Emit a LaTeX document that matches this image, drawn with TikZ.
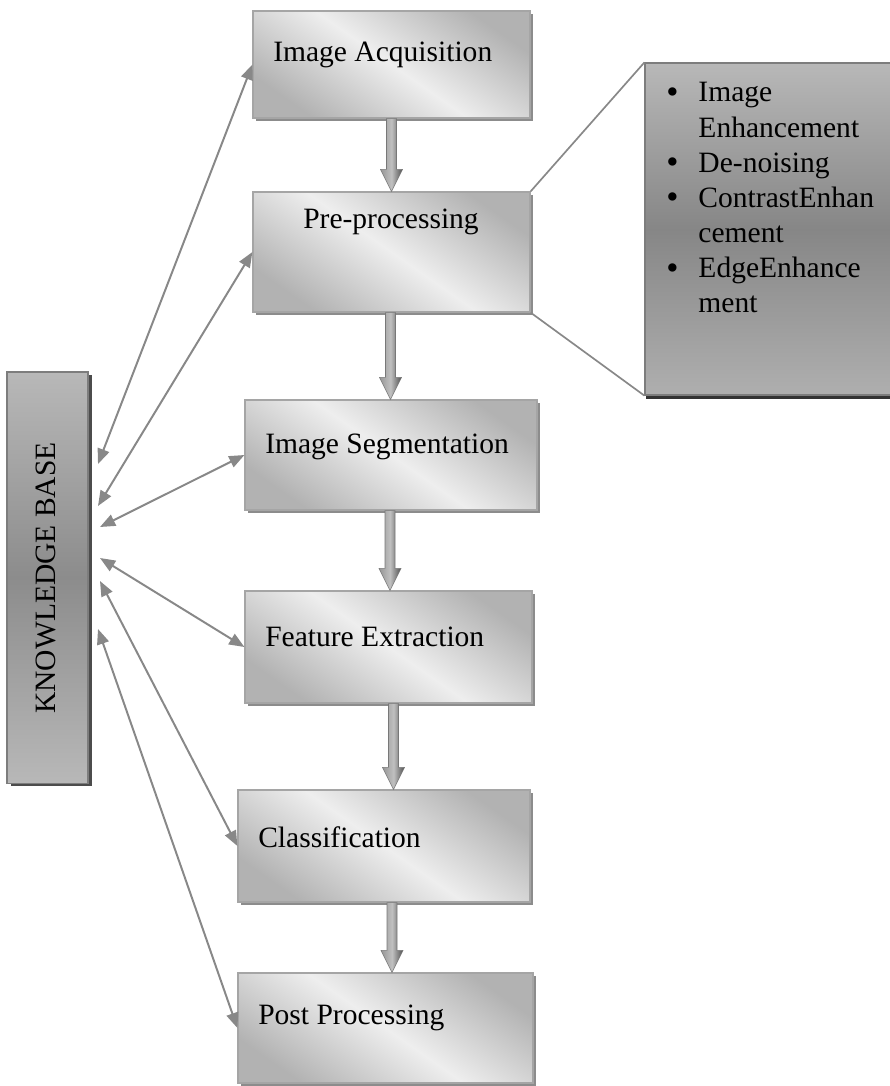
\documentclass[tikz,border=0pt]{standalone}
\usepackage{fontspec}
\usepackage{graphicx}
\setmainfont{Liberation Serif}
\usetikzlibrary{calc}
\usetikzlibrary{shadows}
\usetikzlibrary{arrows.meta}

\definecolor{stageedge}{RGB}{165,165,165}
\definecolor{stagedark}{RGB}{178,178,178}
\definecolor{stagelight}{RGB}{238,238,238}
\definecolor{kbedge}{RGB}{125,125,125}
\definecolor{kbtop}{RGB}{184,184,184}
\definecolor{kbmid}{RGB}{140,140,140}
\definecolor{linkgray}{RGB}{136,136,136}
\definecolor{flowleft}{RGB}{150,150,150}
\definecolor{flowlight}{RGB}{192,192,192}
\definecolor{flowdark}{RGB}{80,80,80}

\tikzset{
  stage/.style={draw=stageedge, line width=0.8pt, inner sep=0pt,
    top color=stagedark, bottom color=stagedark, middle color=stagelight, shading angle=-35,
    drop shadow={shadow xshift=2pt, shadow yshift=-2pt, fill=black!45, opacity=1}},
  stagetext/.style={font=\fontsize{21}{25}\selectfont, inner sep=0pt},
  link/.style={linkgray, line width=1.4pt,
    {Triangle[length=0.38cm,width=0.3cm]}-{Triangle[length=0.38cm,width=0.3cm]}},
  flow/.style={draw=flowleft!80!black, line width=0.4pt,
    left color=flowleft, right color=flowdark, middle color=flowlight},
}

% block arrow from the bottom of #1 to the top of #2, shifted sideways by #3
\newcommand{\flowarrow}[3]{%
  \coordinate (s) at ($(#1.south)+(#3,0)$);
  \coordinate (t) at (s |- #2.north);
  \path[flow] ($(s)+(-5,0)$) -- ($(s)+(5,0)$) -- ($(t)+(5,-22)$) -- ($(t)+(11,-22)$)
    -- (t) -- ($(t)+(-11,-22)$) -- ($(t)+(-5,-22)$) -- cycle;}

\newcommand{\dotitem}{\raisebox{-1pt}{\scalebox{1.18}{\textbullet}}}

\begin{document}
\begin{tikzpicture}[x=0.025cm, y=-0.025cm]
\useasboundingbox (0,0) rectangle (889,1086);

% processing stages
\node[stage, minimum width=6.925cm, minimum height=2.675cm] (ia) at (391.5,64.5) {};
\node[stage, minimum width=6.925cm, minimum height=3cm] (pp) at (391.5,252) {};
\node[stage, minimum width=7.3cm, minimum height=2.75cm] (seg) at (391,455) {};
\node[stage, minimum width=7.175cm, minimum height=2.8cm] (fe) at (388.5,647) {};
\node[stage, minimum width=7.3cm, minimum height=2.8cm] (cl) at (384,846) {};
\node[stage, minimum width=7.375cm, minimum height=2.75cm] (po) at (385.5,1028) {};

\node[stagetext, anchor=west] (iatext) at (273,55) {Image Acquisition};
\node[stagetext] (pptext) at (391,222) {Pre-processing};
\node[stagetext, anchor=west] (segtext) at (265,447) {Image Segmentation};
\node[stagetext, anchor=west] (fetext) at (265,637) {Feature Extraction};
\node[stagetext, anchor=west] (cltext) at (258,837) {Classification};
\node[stagetext, anchor=west] (potext) at (258,1018) {Post Processing};

\flowarrow{ia}{pp}{0}
\flowarrow{pp}{seg}{-1}
\flowarrow{seg}{fe}{-1}
\flowarrow{fe}{cl}{5}
\flowarrow{cl}{po}{8}

% knowledge base
\node[draw=kbedge, line width=0.8pt, inner sep=0pt,
  top color=kbtop, bottom color=kbtop, middle color=kbmid,
  drop shadow={shadow xshift=3pt, shadow yshift=-2pt, fill=black!70, opacity=1},
  minimum width=2.025cm, minimum height=10.275cm] (kb) at (47.5,577.5) {};
\node[stagetext, rotate=90] (kbtext) at (46,578) {KNOWLEDGE BASE};

\coordinate (kb1) at (98,464);
\coordinate (kb2) at (98,506);
\coordinate (kb3) at (100,527);
\coordinate (kb4) at (100,558);
\coordinate (kb5) at (100,581);
\coordinate (kb6) at (98,629);

\draw[link] (kb1) -- (ia.west);
\draw[link] (kb2) -- (pp.west);
\draw[link] (kb3) -- (seg.west);
\draw[link] (kb4) -- (fe.west);
\draw[link] (kb5) -- (cl.west);
\draw[link] (kb6) -- (po.west);

% pre-processing details
\node[draw=kbedge, line width=0.8pt, inner sep=0pt,
  top color=kbtop, bottom color=kbtop!95!black, middle color=kbmid!105,
  drop shadow={shadow xshift=1pt, shadow yshift=-3pt, fill=black!80, opacity=1},
  minimum width=6.25cm, minimum height=8.3cm] (detail) at (770,229) {};
\draw[linkgray, line width=1.2pt] (pp.north east) -- (detail.north west);
\draw[linkgray, line width=1.2pt] (pp.south east) -- (detail.south west);

\node[stagetext, anchor=north west] (detailtext) at (666,77) {%
  \begin{tabular}{@{}l@{\hspace{0.5cm}}l@{}}
  \dotitem & Image\\
           & Enhancement\\
  \dotitem & De-noising\\
  \dotitem & ContrastEnhan\\
           & cement\\
  \dotitem & EdgeEnhance\\
           & ment
  \end{tabular}};
\end{tikzpicture}
\end{document}
